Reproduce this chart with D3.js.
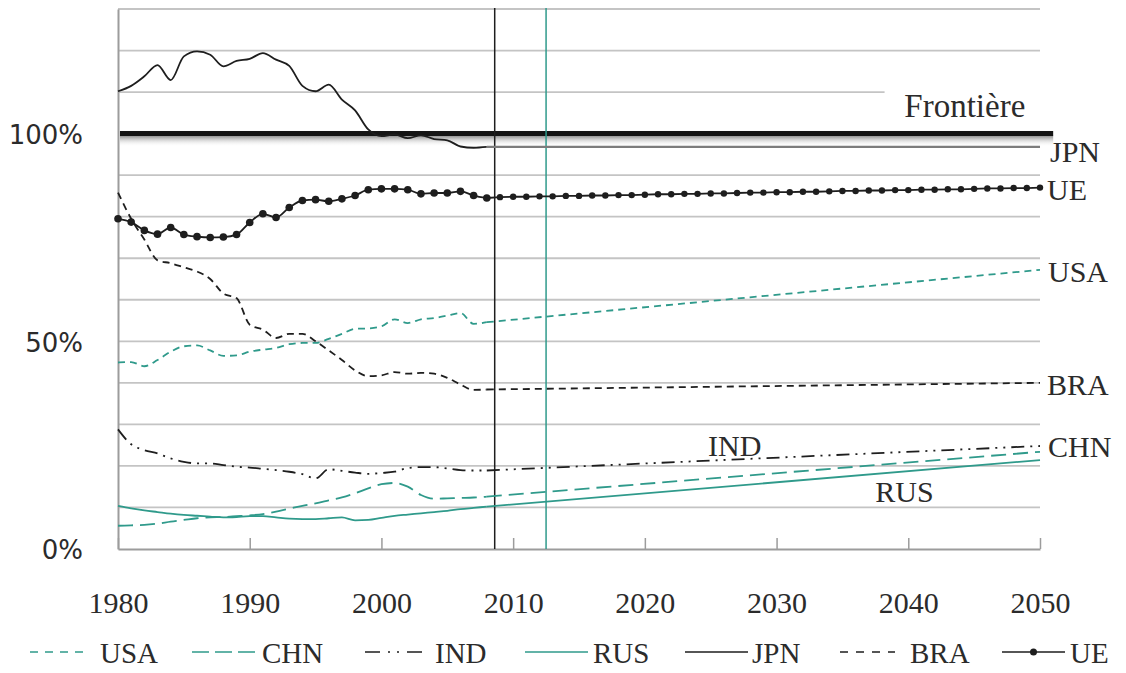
<!DOCTYPE html>
<html>
<head>
<meta charset="utf-8">
<script src="https://cdn.jsdelivr.net/npm/d3@7"></script>
<style>
  body { margin: 0; background: #fff; }
  svg text { font-family: "Liberation Serif", "Times New Roman", serif; fill: #2b2b2b; }
  .pct text { font-family: "DejaVu Sans", sans-serif; }
</style>
</head>
<body>
<div id="chart"></div>
<script>
// observed years, then projection (2008 -> 2050)
var histYears = [1980, 1981, 1982, 1983, 1984, 1985, 1986, 1987, 1988, 1989,
                 1990, 1991, 1992, 1993, 1994, 1995, 1996, 1997, 1998, 1999,
                 2000, 2001, 2002, 2003, 2004, 2005, 2006, 2007, 2008];
var projYears = [2008, 2050];
var ueProjYears = d3.range(2008, 2051);

var usaHist = [44.9, 45.0, 44.0, 45.5, 47.5, 48.8, 49.0, 47.8, 46.5, 46.6, 47.5, 48.0, 48.4, 49.3, 49.6, 49.6, 50.6, 51.8, 53.0, 53.1, 53.6, 55.3, 54.4, 55.3, 55.6, 56.2, 56.8, 54.2, 54.6];
var usaProj = [54.6, 67.2];
var chnHist = [5.6, 5.7, 5.8, 6.1, 6.6, 7.0, 7.4, 7.6, 7.7, 7.9, 8.1, 8.4, 9.0, 9.7, 10.4, 11.0, 11.7, 12.4, 13.4, 14.6, 15.6, 15.9, 15.0, 13.0, 12.1, 12.2, 12.3, 12.4, 12.6];
var chnProj = [12.6, 23.4];
var indHist = [28.8, 25.2, 23.8, 23.0, 21.8, 21.0, 20.6, 20.6, 20.2, 19.8, 19.6, 19.3, 19.0, 18.6, 18.0, 17.0, 19.2, 18.8, 18.4, 18.1, 18.3, 18.6, 19.5, 19.7, 19.7, 19.4, 19.0, 18.9, 18.9];
var indProj = [18.9, 24.8];
var rusHist = [10.4, 9.8, 9.3, 8.9, 8.5, 8.2, 8.0, 7.8, 7.6, 7.7, 7.9, 7.9, 7.6, 7.3, 7.2, 7.2, 7.4, 7.6, 6.9, 7.0, 7.5, 8.0, 8.3, 8.6, 8.9, 9.2, 9.6, 9.9, 10.2];
var rusProj = [10.2, 21.4];
var jpnHist = [110.2, 111.5, 113.8, 116.5, 112.9, 118.6, 119.8, 119.0, 116.2, 117.5, 118.0, 119.4, 117.8, 116.3, 111.5, 110.2, 111.8, 108.2, 105.6, 101.0, 99.4, 99.8, 98.9, 99.6, 98.7, 98.4, 96.9, 96.6, 96.8];
var jpnProj = [96.8, 96.8];
var braHist = [85.8, 79.5, 74.5, 69.5, 68.8, 67.8, 66.8, 65.0, 61.5, 60.4, 54.0, 52.8, 50.8, 51.8, 51.8, 50.0, 47.8, 45.5, 43.0, 41.6, 41.8, 42.6, 42.2, 42.4, 42.2, 41.2, 39.6, 38.3, 38.4];
var braProj = [38.4, 40.0];
var ueHist = [79.5, 78.7, 76.7, 75.8, 77.4, 75.7, 75.2, 75.0, 75.1, 75.7, 78.6, 80.7, 79.8, 82.2, 83.9, 84.1, 83.7, 84.3, 85.1, 86.5, 86.7, 86.7, 86.5, 85.5, 85.7, 85.7, 86.1, 85.1, 84.5];
var ueProj = [84.5, 84.7, 84.8, 84.8, 84.9, 84.9, 85.0, 85.0, 85.1, 85.1, 85.2, 85.2, 85.3, 85.4, 85.4, 85.5, 85.5, 85.6, 85.6, 85.7, 85.8, 85.8, 85.9, 85.9, 86.0, 86.0, 86.1, 86.2, 86.2, 86.3, 86.3, 86.4, 86.4, 86.5, 86.5, 86.6, 86.6, 86.7, 86.8, 86.8, 86.9, 86.9, 87.0];

var frontier = 100;
var yearTicks = [1980, 1990, 2000, 2010, 2020, 2030, 2040, 2050];
var pctTicks = [0, 50, 100];
var gridValues = [10, 20, 30, 40, 50, 60, 70, 80, 90, 110, 120, 130];
var markYears = [2008.6, 2012.5];

var teal = "#2f9a8b";
var dark = "#1e1e1e";

var width = 1126, height = 673;
var x = d3.scaleLinear().domain([1980, 2050]).range([118, 1040]);
var y = d3.scaleLinear().domain([0, 130]).range([549, 9]);

var svg = d3.select("#chart").append("svg")
    .attr("width", width)
    .attr("height", height)
    .style("background", "#fff");

// shadow under the frontier line
var defs = svg.append("defs");
var grad = defs.append("linearGradient")
    .attr("id", "shade").attr("x1", 0).attr("y1", 0).attr("x2", 0).attr("y2", 1);
grad.append("stop").attr("offset", "0%").attr("stop-color", "#7a7a7a").attr("stop-opacity", 0.85);
grad.append("stop").attr("offset", "100%").attr("stop-color", "#ffffff").attr("stop-opacity", 0);

// gridlines (110% line stops before the label)
svg.append("g").selectAll("line")
    .data(gridValues)
    .enter().append("line")
    .attr("x1", x(1980))
    .attr("x2", function(d) { return d == 110 ? x(2038.2) : x(2050); })
    .attr("y1", function(d) { return y(d); })
    .attr("y2", function(d) { return y(d); })
    .attr("stroke", "#c4c4c4")
    .attr("stroke-width", 1.8);

// axes
var xAxis = svg.append("g")
    .attr("transform", "translate(0," + y(0) + ")")
    .call(d3.axisBottom(x).tickValues(yearTicks).tickFormat(d3.format("d"))
        .tickSizeInner(-11).tickSizeOuter(0).tickPadding(43));
xAxis.select(".domain").attr("stroke", "#9c9c9c").attr("stroke-width", 2);
xAxis.selectAll(".tick line").attr("stroke", "#9c9c9c").attr("stroke-width", 1.5);
xAxis.selectAll("text").style("font-size", "30px").attr("fill", "#2b2b2b");

var yAxis = svg.append("g")
    .attr("class", "pct")
    .attr("transform", "translate(" + x(1980) + ",0)")
    .call(d3.axisLeft(y).tickValues(pctTicks).tickFormat(function(d) { return d + "%"; })
        .tickSize(0).tickPadding(35));
yAxis.select(".domain").attr("stroke", "#9c9c9c").attr("stroke-width", 2);
yAxis.selectAll("text").style("font-size", "26px").attr("fill", "#333").attr("dy", "0.38em");

// frontier
svg.append("rect")
    .attr("x", x(1980.15)).attr("width", x(2051) - x(1980.15))
    .attr("y", y(frontier) + 2).attr("height", 11)
    .attr("fill", "url(#shade)");
svg.append("line")
    .attr("x1", x(1980.15)).attr("x2", x(2051))
    .attr("y1", y(frontier)).attr("y2", y(frontier))
    .attr("stroke", "#151515").attr("stroke-width", 5);

// vertical markers
svg.append("g").selectAll("line")
    .data(markYears)
    .enter().append("line")
    .attr("x1", function(d) { return x(d); })
    .attr("x2", function(d) { return x(d); })
    .attr("y1", y(0)).attr("y2", y(130) - 1)
    .attr("stroke", function(d, i) { return i == 0 ? dark : teal; })
    .attr("stroke-width", 1.5);

var smooth = d3.line()
    .x(function(d) { return x(d[0]); })
    .y(function(d) { return y(d[1]); })
    .curve(d3.curveMonotoneX);
var straight = d3.line()
    .x(function(d) { return x(d[0]); })
    .y(function(d) { return y(d[1]); });

var series = [
  {key: "RUS", hist: rusHist, proj: rusProj, color: teal, dash: null},
  {key: "CHN", hist: chnHist, proj: chnProj, color: teal, dash: "15,7"},
  {key: "IND", hist: indHist, proj: indProj, color: dark, dash: "13,6,2,6,2,6"},
  {key: "BRA", hist: braHist, proj: braProj, color: dark, dash: "7,5"},
  {key: "USA", hist: usaHist, proj: usaProj, color: teal, dash: "7,5"},
  {key: "JPN", hist: jpnHist, proj: jpnProj, color: dark, dash: null, projColor: "#7c7c7c"},
  {key: "UE", hist: ueHist, proj: ueProj, color: dark, dash: null}
];

series.forEach(function(s) {
  var h = d3.zip(histYears, s.hist);
  var p = s.key == "UE" ? d3.zip(ueProjYears, s.proj) : d3.zip(projYears, s.proj);
  svg.append("path")
      .attr("d", smooth(h))
      .attr("fill", "none")
      .attr("stroke", s.color)
      .attr("stroke-width", 1.8)
      .attr("stroke-dasharray", s.dash);
  svg.append("path")
      .attr("d", straight(p))
      .attr("fill", "none")
      .attr("stroke", s.projColor || s.color)
      .attr("stroke-width", s.projColor ? 2.4 : 1.8)
      .attr("stroke-dasharray", s.dash);
  if (s.key == "UE") {
    svg.append("g").selectAll("circle")
        .data(h.concat(p.slice(1)))
        .enter().append("circle")
        .attr("cx", function(d) { return x(d[0]); })
        .attr("cy", function(d) { return y(d[1]); })
        .attr("r", function(d) { return d[0] <= 2008 ? 3.8 : 3.2; })
        .attr("fill", dark);
  }
});

// labels
function label(txt, px, py, color, size) {
  svg.append("text")
      .attr("x", px).attr("y", py)
      .attr("fill", color)
      .style("font-size", (size || 30) + "px")
      .text(txt);
}
label("Frontière", x(2039.7), y(frontier) - 17, "#2b2b2b", 33);
label("JPN", x(2050) + 10, y(jpnProj[1]) + 15, "#2b2b2b");
label("UE", x(2050) + 7, y(ueProj[ueProj.length - 1]) + 12, "#2b2b2b");
label("USA", x(2050) + 8, y(usaProj[1]) + 12, teal);
label("BRA", x(2050) + 7, y(braProj[1]) + 12, "#2b2b2b");
label("CHN", x(2050) + 8, y(chnProj[1]) + 5, teal);
label("IND", x(2024.8), y(22.3), "#2b2b2b");
label("RUS", x(2037.5), y(11.2), teal);

// legend
var legendX = [30, 192, 365, 525, 685, 840, 1002];
var legendItems = [
  {key: "USA", color: teal, dash: "8,7", len: 53, gap: 17},
  {key: "CHN", color: teal, dash: "17,6", len: 63, gap: 7},
  {key: "IND", color: dark, dash: "15,8,2,7,2,8", len: 60, gap: 10},
  {key: "RUS", color: teal, dash: null, len: 63, gap: 5},
  {key: "JPN", color: dark, dash: null, len: 63, gap: 4},
  {key: "BRA", color: dark, dash: "8,8", len: 55, gap: 15},
  {key: "UE", color: dark, dash: null, len: 63, gap: 5, dot: true}
];
var legend = svg.append("g").attr("transform", "translate(0,652)");
legendItems.forEach(function(d, i) {
  var g = legend.append("g").attr("transform", "translate(" + legendX[i] + ",0)");
  g.append("line")
      .attr("x1", 0).attr("x2", d.len)
      .attr("stroke", d.color).attr("stroke-width", 1.7)
      .attr("stroke-dasharray", d.dash);
  if (d.dot) g.append("circle").attr("cx", d.len / 2).attr("r", 3.5).attr("fill", dark);
  g.append("text")
      .attr("x", d.len + d.gap).attr("y", 11)
      .style("font-size", "29px")
      .attr("fill", "#2b2b2b")
      .text(d.key);
});
</script>
</body>
</html>
